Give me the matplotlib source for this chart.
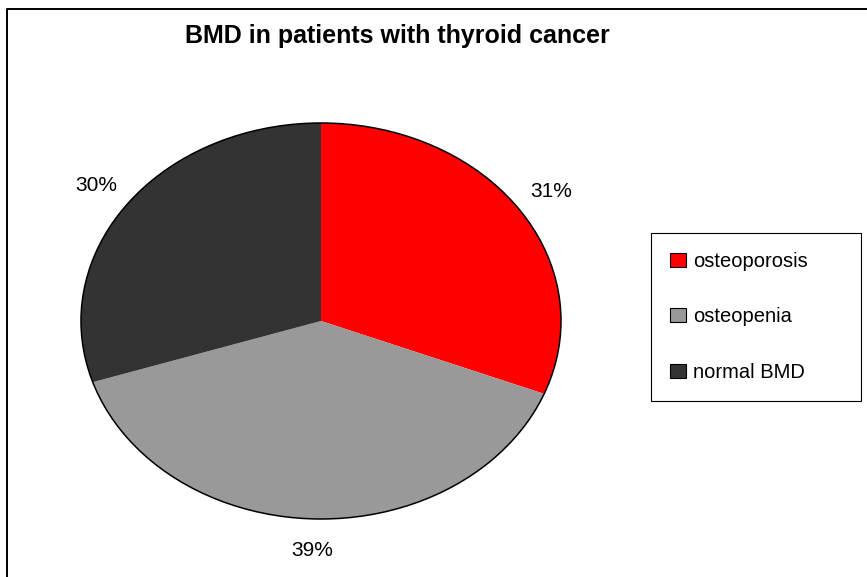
import matplotlib
matplotlib.use("Agg")
import matplotlib.pyplot as plt
from matplotlib.patches import Patch, Circle
from matplotlib.lines import Line2D

plt.rcParams["font.family"] = ["Liberation Sans", "DejaVu Sans"]

categories = ["osteoporosis", "osteopenia", "normal BMD"]
values = [31, 39, 30]
colors = ["#FF0000", "#999999", "#333333"]
title = "BMD in patients with thyroid cancer"

W, H = 867, 577
fig = plt.figure(figsize=(W / 100, H / 100), dpi=100)

# pie box in pixels (left, top, right, bottom) -> elliptical pie
px_l, px_t, px_r, px_b = 81, 123, 561, 519
ax = fig.add_axes([px_l / W, 1 - px_b / H, (px_r - px_l) / W, (px_b - px_t) / H])

wedges, texts, autotexts = ax.pie(
    values, colors=colors, startangle=90, counterclock=False,
    autopct=lambda p: f"{p:.0f}%", pctdistance=1.16,
    wedgeprops=dict(linewidth=0), textprops=dict(fontsize=15, color="black"),
)
ax.set_aspect("auto")
ax.set_xlim(-1, 1)
ax.set_ylim(-1, 1)
ax.axis("off")
for w in wedges:
    w.set_clip_on(False)
for t in autotexts:
    t.set_clip_on(False)

# black outline only around the outer edge
ax.add_patch(Circle((0, 0), 1, fill=False, edgecolor="black", lw=1.1, clip_on=False, zorder=5))

fig.text(397 / W, 1 - 43 / H, title, ha="center", va="baseline",
         fontsize=18, fontweight="bold")

handles = [Patch(facecolor=c, edgecolor="black", linewidth=0.8) for c in colors]
leg = fig.legend(handles, categories, loc="upper left",
                 bbox_to_anchor=(651 / W, 1 - 233 / H - 0.01, (861 - 651) / W, 0.01),
                 mode="expand", fontsize=14.5, frameon=True, fancybox=False,
                 edgecolor="black", framealpha=1, borderpad=0.95,
                 labelspacing=1.8, handlelength=0.8, handleheight=0.7,
                 handletextpad=0.35, borderaxespad=0)
leg.get_frame().set_linewidth(0.8)

# chart-area border on the left and top edges
fig.add_artist(Line2D([7 / W, 7 / W, 1], [0, 1 - 9 / H, 1 - 9 / H],
                      color="black", lw=1.4, transform=fig.transFigure))

fig.savefig("out.png", dpi=100)
